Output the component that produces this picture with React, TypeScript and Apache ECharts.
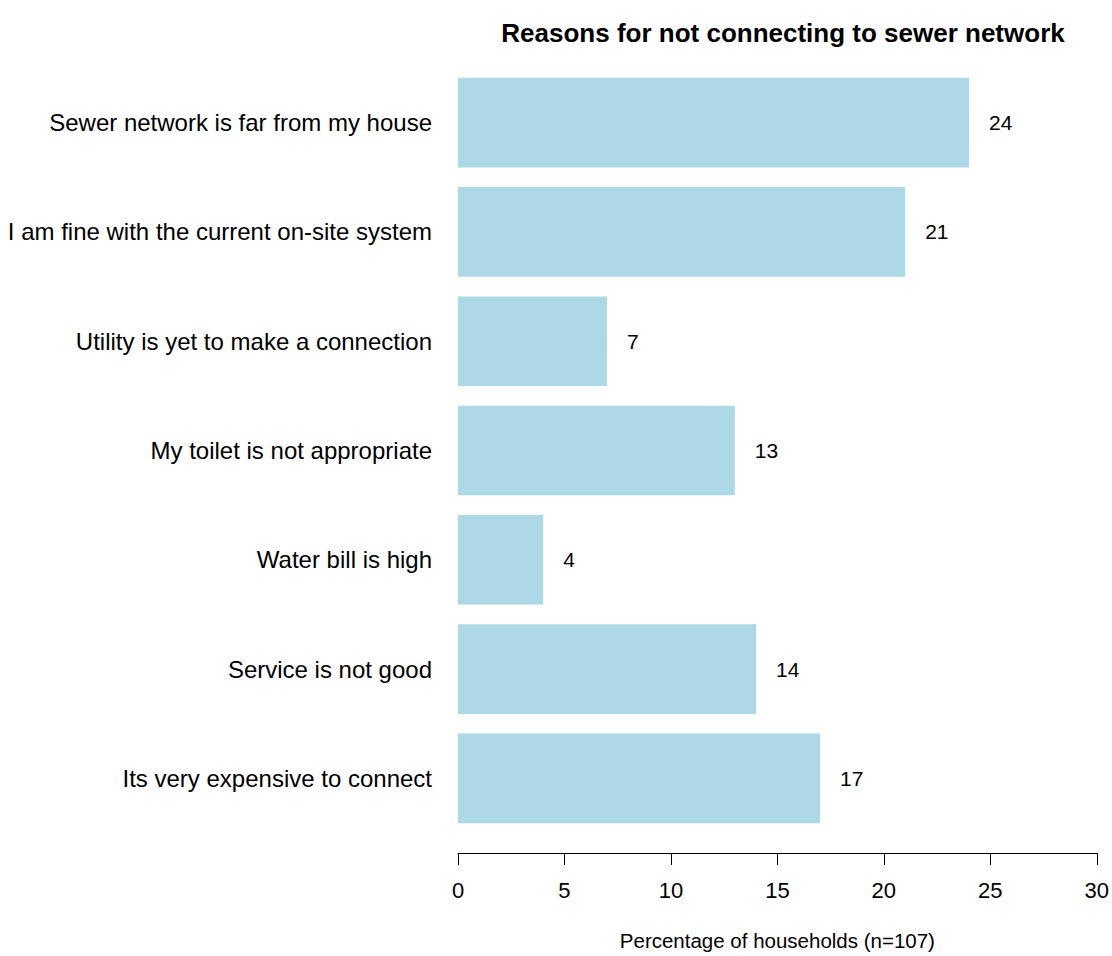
import React, { useEffect, useRef } from "react";
import * as echarts from "echarts";

const categories = [
  "Sewer network is far from my house",
  "I am fine with the current on-site system",
  "Utility is yet to make a connection",
  "My toilet is not appropriate",
  "Water bill is high",
  "Service is not good",
  "Its very expensive to connect",
];
const values = [24, 21, 7, 13, 4, 14, 17];
const xTicks = { min: 0, max: 30, interval: 5 };

export default function App() {
  const ref = useRef<HTMLDivElement>(null);
  useEffect(() => {
    document.body.style.margin = "0";
    const chart = echarts.init(ref.current!, null, { renderer: "svg" });
    chart.setOption({
      animation: false,
      backgroundColor: "#ffffff",
      title: {
        text: "Reasons for not connecting to sewer network",
        left: 778,
        textAlign: "center",
        top: 15,
        textStyle: {
          fontFamily: "Liberation Sans, Arial, sans-serif",
          fontWeight: "bold",
          fontSize: 26,
          color: "#000",
        },
      },
      grid: { left: 458, right: 14, top: 68, bottom: 121 },
      xAxis: {
        type: "value",
        min: xTicks.min,
        max: xTicks.max,
        interval: xTicks.interval,
        offset: 20,
        splitLine: { show: false },
        axisLine: { show: true, lineStyle: { color: "#000", width: 1 } },
        axisTick: { show: true, length: 12, lineStyle: { color: "#000" } },
        axisLabel: {
          margin: 26,
          fontSize: 22,
          color: "#000",
          fontFamily: "Liberation Sans, Arial, sans-serif",
        },
        name: "Percentage of households (n=107)",
        nameLocation: "middle",
        nameGap: 77,
        nameTextStyle: {
          fontSize: 20.5,
          color: "#000",
          fontFamily: "Liberation Sans, Arial, sans-serif",
        },
      },
      yAxis: {
        type: "category",
        data: categories,
        inverse: true,
        axisLine: { show: false },
        axisTick: { show: false },
        axisLabel: {
          margin: 26,
          fontSize: 24,
          color: "#000",
          fontFamily: "Liberation Sans, Arial, sans-serif",
        },
      },
      series: [
        {
          type: "bar",
          data: values,
          barCategoryGap: "18%",
          itemStyle: { color: "#ADD8E6" },
          label: {
            show: true,
            position: "right",
            distance: 20,
            fontSize: 21,
            color: "#000",
            fontFamily: "Liberation Sans, Arial, sans-serif",
          },
        },
      ],
    });
    return () => chart.dispose();
  }, []);
  return <div ref={ref} style={{ width: 1112, height: 956 }} />;
}
